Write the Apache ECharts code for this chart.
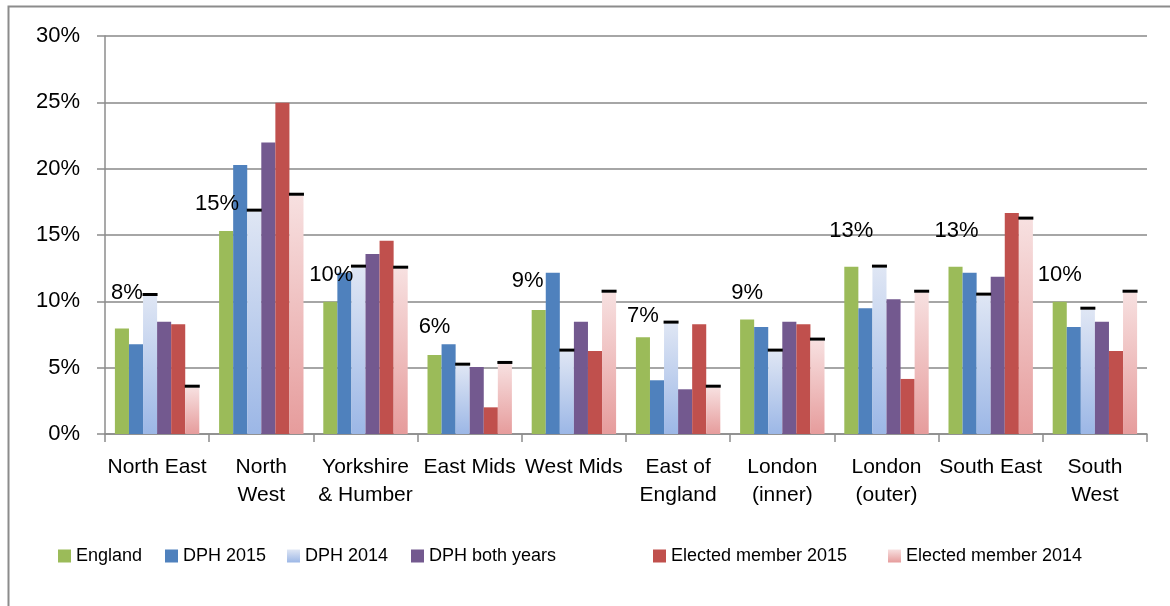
<!DOCTYPE html>
<html>
<head>
<meta charset="utf-8">
<script src="https://cdn.jsdelivr.net/npm/echarts@6/dist/echarts.min.js"></script>
<style>
	html, body { margin: 0; padding: 0; background: #fff; }
	#chart { width: 1170px; height: 606px; }
</style>
</head>
<body>
<div id="chart"></div>
<script>
	// regions on the x axis
	var categories = ['North East', 'North\nWest', 'Yorkshire\n& Humber', 'East Mids', 'West Mids',
		'East of\nEngland', 'London\n(inner)', 'London\n(outer)', 'South East', 'South\nWest'];
	// values in percent
	var england = [7.96, 15.30, 9.97, 5.95, 9.35, 7.29, 8.64, 12.61, 12.61, 9.97];
	var dph2015 = [6.76, 20.28, 12.16, 6.76, 12.16, 4.05, 8.07, 9.47, 12.16, 8.07];
	var dph2014 = [10.40, 16.76, 12.54, 5.15, 6.21, 8.32, 6.21, 12.54, 10.43, 9.37];
	var dphBoth = [8.47, 21.98, 13.57, 5.05, 8.47, 3.37, 8.47, 10.15, 11.86, 8.47];
	var em2015 = [8.27, 24.97, 14.57, 2.01, 6.26, 8.27, 8.27, 4.15, 16.66, 6.26];
	var em2014 = [3.49, 17.96, 12.46, 5.28, 10.65, 3.49, 7.04, 10.65, 16.16, 10.65];
	var yTicks = [0, 5, 10, 15, 20, 25, 30];
	var seriesNames = ['England', 'DPH 2015', 'DPH 2014', 'DPH both years', 'Elected member 2015', 'Elected member 2014'];

	// label nudges for the England labels (moved by hand in the original)
	var labelNudge = [[5, -8], [-9, 0], [1, 0], [0, -1], [-11, -2], [0, 6], [0, 1], [0, -9], [1, -9], [0, 0]];
	// legend entries are spread out like in Excel, so each gets its own left
	var legendLeft = [58, 165, 287, 411, 653, 888];

	var font = 'Liberation Sans';

	function grad(top, bottom) {
		return {
			type: 'linear', x: 0, y: 0, x2: 0, y2: 1,
			colorStops: [{ offset: 0, color: top }, { offset: 1, color: bottom }]
		};
	}

	// black dash on top of the 2014 bars
	function dashes(arr) {
		return {
			symbol: 'rect',
			symbolSize: [15, 3],
			symbolOffset: [0, -1.5],
			itemStyle: { color: '#000' },
			label: { show: false },
			silent: true,
			data: arr.map(function (v, i) { return { coord: [i, v] }; })
		};
	}

	var myChart = echarts.init(document.getElementById('chart'));

	var legends = seriesNames.map(function (name, i) {
		return {
			data: [name],
			left: legendLeft[i], top: 547,
			padding: 0,
			icon: 'rect',
			itemWidth: 13, itemHeight: 13,
			itemGap: 0,
			textStyle: { fontSize: 18, fontFamily: font, color: '#000' }
		};
	});

	var option = {
		animation: false,
		textStyle: { fontFamily: font, color: '#000' },
		graphic: [{
			type: 'rect',
			left: 6, top: 4,
			shape: { width: 1200, height: 700 },
			style: { fill: 'none', stroke: '#8c8c8c', lineWidth: 2 }
		}],
		grid: { left: 105, right: 23, top: 36, bottom: 172 },
		legend: legends,
		xAxis: {
			type: 'category',
			data: categories,
			axisLine: { lineStyle: { color: '#8c8c8c', width: 1.5 } },
			axisTick: { show: true, length: 8, lineStyle: { color: '#8c8c8c', width: 1.5 } },
			axisLabel: { fontSize: 21, lineHeight: 28, margin: 19, color: '#000', interval: 0 }
		},
		yAxis: {
			type: 'value',
			min: yTicks[0], max: yTicks[yTicks.length - 1], interval: 5,
			axisLine: { show: true, lineStyle: { color: '#8c8c8c', width: 1.5 } },
			axisTick: { show: true, length: 8, lineStyle: { color: '#8c8c8c', width: 1.5 } },
			axisLabel: { fontSize: 22, margin: 25, color: '#000', formatter: '{value}%' },
			splitLine: { show: true, lineStyle: { color: '#a6a6a6', width: 2 } }
		},
		series: [{
			name: seriesNames[0], type: 'bar',
			barGap: '0%', barCategoryGap: '19%',
			itemStyle: { color: '#9bbb59' },
			data: england.map(function (v, i) {
				return { value: v, label: { offset: labelNudge[i] } };
			}),
			label: {
				show: true, position: 'top', distance: 16,
				fontSize: 22, color: '#000',
				formatter: function (p) { return Math.round(p.value) + '%'; }
			}
		}, {
			name: seriesNames[1], type: 'bar',
			itemStyle: { color: '#4f81bd' },
			data: dph2015
		}, {
			name: seriesNames[2], type: 'bar',
			itemStyle: { color: grad('#dfe6f4', '#9cb7e6') },
			data: dph2014,
			markPoint: dashes(dph2014)
		}, {
			name: seriesNames[3], type: 'bar',
			itemStyle: { color: '#73598f' },
			data: dphBoth
		}, {
			name: seriesNames[4], type: 'bar',
			itemStyle: { color: '#c0504d' },
			data: em2015
		}, {
			name: seriesNames[5], type: 'bar',
			itemStyle: { color: grad('#f7e0e0', '#e69c9c') },
			data: em2014,
			markPoint: dashes(em2014)
		}]
	};

	myChart.setOption(option);
</script>
</body>
</html>
